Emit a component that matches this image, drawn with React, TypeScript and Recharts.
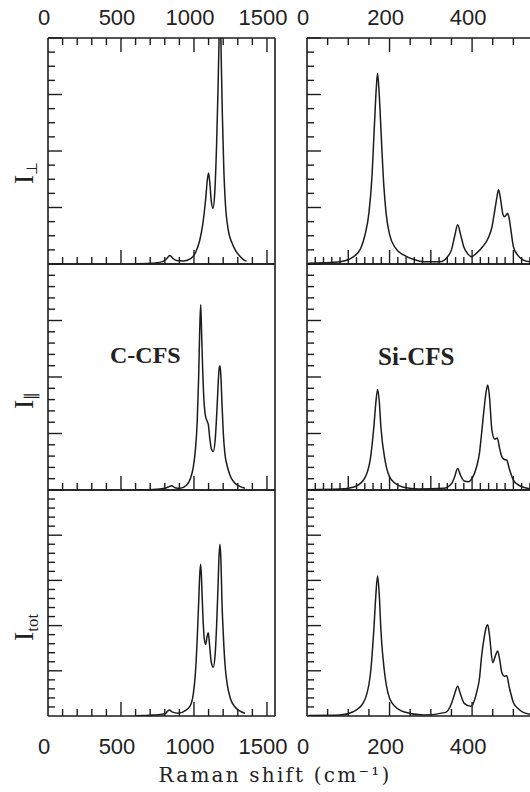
import React from 'react';
import { LineChart, Line, XAxis, YAxis } from 'recharts';

// ---------- C-CFS (left column), Raman shift in cm^-1 ----------
const cPerpShift = [600, 700, 780, 810, 835, 855, 880, 930, 980, 1010, 1040, 1060, 1080, 1092, 1100, 1108, 1118, 1130, 1142, 1155, 1165, 1172, 1178, 1185, 1194, 1205, 1215, 1235, 1260, 1285, 1310, 1340, 1360];
const cPerpInt = [0.02, 0.05, 0.15, 0.35, 0.6, 0.4, 0.25, 0.22, 0.4, 0.8, 1.7, 2.8, 4.6, 6.0, 6.45, 5.8, 4.5, 3.95, 5.0, 8.5, 12.5, 16, 19, 15.5, 10.7, 6.5, 4.3, 2.4, 1.5, 0.95, 0.6, 0.3, 0.2];

const cParShift = [600, 720, 800, 830, 847, 870, 905, 950, 975, 995, 1010, 1022, 1032, 1040, 1046, 1052, 1060, 1068, 1078, 1090, 1098, 1108, 1120, 1132, 1145, 1157, 1166, 1173, 1178, 1184, 1192, 1201, 1212, 1228, 1250, 1281, 1310, 1349];
const cParInt = [0.02, 0.05, 0.15, 0.3, 0.38, 0.2, 0.15, 0.45, 1.0, 2.0, 3.6, 6.0, 10, 14.5, 16.4, 14, 10.5, 8.0, 6.6, 6.1, 5.8, 4.6, 3.6, 3.4, 4.4, 7.0, 9.5, 10.8, 11.0, 10.2, 7.6, 5.0, 3.2, 2.1, 1.2, 0.6, 0.35, 0.15];

const cTotShift = [600, 720, 800, 831, 850, 893, 940, 973, 995, 1010, 1022, 1032, 1040, 1046, 1052, 1060, 1070, 1080, 1090, 1098, 1106, 1118, 1132, 1145, 1155, 1165, 1172, 1178, 1184, 1192, 1201, 1212, 1228, 1250, 1281, 1310, 1349];
const cTotInt = [0.02, 0.1, 0.25, 0.66, 0.45, 0.3, 0.6, 1.1, 2.4, 4.8, 8.5, 12.5, 15.8, 16.8, 15, 11.5, 8.6, 7.9, 8.8, 9.2, 8.0, 6.0, 5.4, 6.8, 10, 14.5, 17.8, 19.0, 17.5, 12.5, 9.0, 5.8, 3.5, 1.9, 1.0, 0.6, 0.3];

// ---------- Si-CFS (right column) ----------
const sPerpShift = [3, 40, 80, 112, 130, 140, 150, 157, 163, 168, 171, 175, 180, 186, 192, 200, 215, 234, 260, 282, 322, 340, 350, 358, 365, 372, 380, 390, 399, 410, 425, 440, 448, 455, 460, 464, 469, 474, 478, 482, 486, 490, 495, 500, 510, 524, 541];
const sPerpInt = [0.05, 0.08, 0.16, 0.5, 1.1, 2.0, 3.6, 6.0, 9.6, 12.5, 13.5, 12.0, 9.0, 5.6, 3.5, 2.1, 1.1, 0.64, 0.3, 0.16, 0.16, 0.5, 1.0, 2.0, 2.77, 2.1, 1.2, 0.7, 0.52, 0.75, 1.2, 1.9, 2.6, 3.8, 4.7, 5.25, 4.6, 3.6, 3.35, 3.45, 3.6, 3.2, 2.2, 1.23, 0.65, 0.28, 0.15];

const sParShift = [3, 80, 112, 137, 153, 162, 167, 171, 175, 179, 189, 205, 234, 270, 331, 351, 358, 365, 372, 381, 391, 401, 411, 418, 423, 430, 434, 438, 442, 448, 455, 461, 466, 472, 478, 484, 490, 500, 512, 524, 541];
const sParInt = [0.03, 0.08, 0.24, 0.88, 2.65, 5.6, 7.8, 8.9, 7.9, 5.6, 2.65, 0.88, 0.24, 0.08, 0.15, 0.6, 1.2, 1.9, 1.3, 0.8, 0.74, 1.1, 2.06, 3.3, 5.0, 7.5, 8.7, 9.3, 8.3, 5.3, 4.5, 4.6, 3.8, 2.95, 2.7, 2.65, 1.9, 0.88, 0.45, 0.24, 0.1];

const sTotShift = [3, 80, 112, 137, 153, 162, 167, 171, 175, 179, 189, 205, 234, 282, 336, 351, 358, 365, 372, 381, 397, 411, 418, 423, 430, 434, 438, 442, 450, 456, 462, 467, 472, 478, 484, 490, 500, 512, 524, 541];
const sTotInt = [0.05, 0.1, 0.47, 1.5, 4.4, 9.6, 13.5, 15.5, 13.5, 9.6, 4.4, 1.5, 0.47, 0.1, 0.4, 1.5, 2.5, 3.3, 2.4, 1.4, 1.07, 2.6, 4.2, 6.6, 8.9, 9.8, 10.1, 9.0, 5.9, 6.6, 7.2, 6.2, 4.8, 4.4, 4.44, 3.2, 1.5, 0.8, 0.4, 0.2];

// ---------- axis tick labels ----------
const leftTickLabels = [0, 500, 1000, 1500];
const rightTickLabels = [0, 200, 400];
const xTitle = 'Raman shift (cm⁻¹)';

const INK = '#1c1c1c';

const steps = (max: number, step: number) => {
  const a: number[] = [];
  for (let i = 0; i * step <= max + 1e-9; i++) a.push(Math.round(i * step * 1000) / 1000);
  return a;
};
const rows = (xs: number[], ys: number[]) => xs.map((x, i) => ({ x, y: ys[i] }));

const isMult = (v: number, m: number) => Math.abs(v / m - Math.round(v / m)) < 1e-6;

const mkXTick = (side: 'top' | 'bottom', major: number, labels: number[] | null, draw: boolean) => (p: any) => {
  const { x, y, payload } = p;
  if (!draw) return <g />;
  const v = payload.value;
  const big = isMult(v, major);
  const len = big ? 14 : 7;
  const dir = side === 'top' ? 1 : -1;
  const showLabel = labels && labels.includes(v);
  return (
    <g>
      {v !== 0 && <line x1={x} x2={x} y1={y} y2={y + dir * len} stroke={INK} strokeWidth={1.4} />}
      {showLabel && (
        <text x={x - 4} y={side === 'top' ? y - 13 : y + 38} textAnchor="middle" fontFamily="'Liberation Sans', Arial, sans-serif" fontSize={22} fill="#222">
          {v}
        </text>
      )}
    </g>
  );
};

const mkYTick = (major: number) => (p: any) => {
  const { x, y, payload } = p;
  const v = payload.value;
  if (v === 0) return <g />;
  const len = isMult(v, major) ? 14 : 7;
  return <line x1={x} x2={x + len} y1={y} y2={y} stroke={INK} strokeWidth={1.4} />;
};

type PanelProps = {
  data: { x: number; y: number }[];
  plotLeft: number;
  plotTop: number;
  xMax: number;
  yMax: number;
  yMajor: number;
  topTicks: number[];
  topMajor: number;
  topLabels: number[] | null;
  drawTop: boolean;
  botTicks: number[];
  botMajor: number;
  botLabels: number[] | null;
};

function Panel(p: PanelProps) {
  const W = 227, H = 226, mL = 16, mR = 34, mT = 36, mB = 44;
  const cw = W + mL + mR + 2;
  const ch = H + mT + mB + 2;
  const axisLine = { stroke: INK, strokeWidth: 1.6 };
  return (
    <div style={{ position: 'absolute', left: p.plotLeft - mL - 1, top: p.plotTop - mT - 1 }}>
      <LineChart width={cw} height={ch} data={p.data} margin={{ top: mT, right: mR, bottom: mB, left: mL }}>
        <XAxis xAxisId="b" orientation="bottom" type="number" dataKey="x" domain={[0, p.xMax]} allowDataOverflow
          ticks={p.botTicks} interval={0} tick={mkXTick('bottom', p.botMajor, p.botLabels, true)}
          tickLine={false} tickSize={0} tickMargin={0} height={1} axisLine={axisLine} />
        <XAxis xAxisId="t" orientation="top" type="number" dataKey="x" domain={[0, p.xMax]} allowDataOverflow
          ticks={p.topTicks} interval={0} tick={mkXTick('top', p.topMajor, p.topLabels, p.drawTop)}
          tickLine={false} tickSize={0} tickMargin={0} height={1} axisLine={axisLine} />
        <YAxis yAxisId="l" orientation="left" type="number" domain={[0, p.yMax]} allowDataOverflow
          ticks={steps(p.yMax, 1)} interval={0} tick={mkYTick(p.yMajor)}
          tickLine={false} tickSize={0} tickMargin={0} width={1} axisLine={axisLine} />
        <YAxis yAxisId="r" orientation="right" type="number" domain={[0, p.yMax]} allowDataOverflow
          ticks={[0, p.yMax]} interval={0} tick={() => <g />}
          tickLine={false} tickSize={0} tickMargin={0} width={1} axisLine={axisLine} />
        <Line xAxisId="b" yAxisId="l" dataKey="y" type="monotone" stroke={INK} strokeWidth={1.5}
          dot={false} activeDot={false} isAnimationActive={false} />
      </LineChart>
    </div>
  );
}

const LEFT_X = 48;
const RIGHT_X = 307;
const TOPS = [38, 264, 490];
const LEFT_MAX = 1555;
const RIGHT_MAX = 550;

export default function App() {
  const leftTicks = steps(1500, 100);
  const rightOuter = steps(550, 50);
  const rightInner = steps(540, 20);
  const left = [
    { data: rows(cPerpShift, cPerpInt), yMax: 16, yMajor: 4 },
    { data: rows(cParShift, cParInt), yMax: 20, yMajor: 5 },
    { data: rows(cTotShift, cTotInt), yMax: 25, yMajor: 5 },
  ];
  const right = [
    { data: rows(sPerpShift, sPerpInt), yMax: 16, yMajor: 4 },
    { data: rows(sParShift, sParInt), yMax: 20, yMajor: 5 },
    { data: rows(sTotShift, sTotInt), yMax: 25, yMajor: 5 },
  ];
  const serif = "'Liberation Serif', 'Times New Roman', serif";
  return (
    <div style={{ position: 'absolute', left: 0, top: 0, width: 530, height: 792, overflow: 'hidden', background: '#fff' }}>
      {left.map((s, i) => (
        <Panel key={'l' + i} data={s.data} plotLeft={LEFT_X} plotTop={TOPS[i]} xMax={LEFT_MAX} yMax={s.yMax} yMajor={s.yMajor}
          topTicks={leftTicks} topMajor={500} topLabels={i === 0 ? leftTickLabels : null} drawTop={i === 0}
          botTicks={leftTicks} botMajor={500} botLabels={i === 2 ? leftTickLabels : null} />
      ))}
      {right.map((s, i) => (
        <Panel key={'r' + i} data={s.data} plotLeft={RIGHT_X} plotTop={TOPS[i]} xMax={RIGHT_MAX} yMax={s.yMax} yMajor={s.yMajor}
          topTicks={rightOuter} topMajor={200} topLabels={i === 0 ? rightTickLabels : null} drawTop={i === 0}
          botTicks={i === 2 ? rightOuter : rightInner} botMajor={i === 2 ? 200 : 100} botLabels={i === 2 ? rightTickLabels : null} />
      ))}
      <svg width={530} height={792} style={{ position: 'absolute', left: 0, top: 0, pointerEvents: 'none' }}>
        <text x={275} y={782} textAnchor="middle" fontFamily="'DejaVu Serif', serif" fontSize={20} letterSpacing={2.2} fill="#222">{xTitle}</text>
        <text x={110} y={363} fontFamily={serif} fontWeight="bold" fontSize={24} fill="#222">C-CFS</text>
        <text x={378} y={365} fontFamily={serif} fontWeight="bold" fontSize={25} fill="#222">Si-CFS</text>
        <text transform="translate(33,184) rotate(-90)" fontFamily={serif} fontSize={28} fill="#222">
          I<tspan fontSize={15} dy={4}>⊥</tspan>
        </text>
        <text transform="translate(33,409) rotate(-90)" fontFamily={serif} fontSize={28} fill="#222">
          I<tspan fontSize={16} dy={3}>∥</tspan>
        </text>
        <text transform="translate(33,641) rotate(-90)" fontFamily={serif} fontSize={28} fill="#222">
          I<tspan fontSize={17} dy={5}>tot</tspan>
        </text>
      </svg>
    </div>
  );
}
